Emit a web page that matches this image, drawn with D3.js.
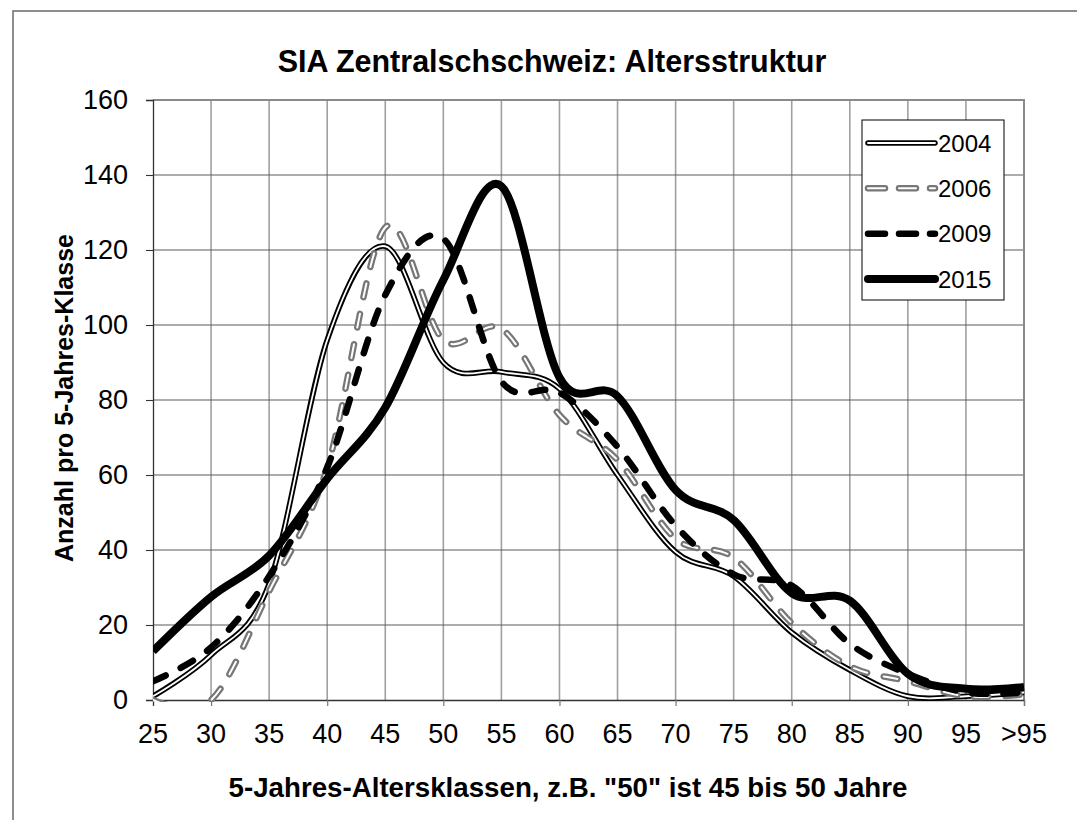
<!DOCTYPE html>
<html><head><meta charset="utf-8">
<script src="https://cdn.jsdelivr.net/npm/d3@7"></script>
<style>
body{margin:0;background:#fff}
svg{display:block}
text{font-family:"Liberation Sans",Arial,Helvetica,sans-serif;fill:#000}
</style>
</head><body>
<svg id="chart" width="1077" height="820"></svg>
<script>
// ---------- data ----------
const categories = ["25","30","35","40","45","50","55","60","65","70","75","80","85","90","95",">95"];
const yTickValues = [0,20,40,60,80,100,120,140,160];
const seriesNames = ["2004","2006","2009","2015"];
const values2004 = [1, 12, 31, 96, 121, 90, 87.5, 83, 60, 39.5, 33, 18, 8, 1, 1, 2];
const values2006 = [0, 0, 29, 62, 126, 96, 99, 76, 64, 43, 38, 20.5, 9, 5, 1, 1.5];
const values2009 = [5, 14, 33, 62, 108, 123, 85, 82, 67.5, 46.5, 33.5, 30.5, 15, 7, 2, 2];
const values2015 = [13, 27.5, 38.5, 59, 78, 112, 137, 86, 81, 56, 48, 28.5, 26.5, 7, 3, 3.5];
const titleText = "SIA Zentralschschweiz: Altersstruktur";
const xTitleText = '5-Jahres-Altersklassen, z.B. "50" ist 45 bis 50 Jahre';
const yTitleText = "Anzahl pro 5-Jahres-Klasse";

// ---------- layout ----------
const W = 1077, H = 820;
const plot = {left:153, right:1024, top:100, bottom:700};
const svg = d3.select("#chart");

const x = d3.scalePoint().domain(categories).range([plot.left, plot.right]);
const y = d3.scaleLinear().domain([0,160]).range([plot.bottom, plot.top]);

// outer chart frame (cropped at right/bottom)
svg.append("path").attr("d", `M13,${H}V11H${W}`).attr("fill","none")
   .attr("stroke","#6a6a6a").attr("stroke-width",1.5);

// vertical gridlines
svg.append("g").selectAll("line").data(categories.slice(1,-1)).join("line")
  .attr("x1", d=>x(d)).attr("x2", d=>x(d))
  .attr("y1", plot.top).attr("y2", plot.bottom)
  .attr("stroke","#a0a0a0").attr("stroke-width",1.6);
// horizontal gridlines
svg.append("g").selectAll("line").data(yTickValues.slice(1)).join("line")
  .attr("x1", plot.left).attr("x2", plot.right)
  .attr("y1", d=>y(d)).attr("y2", d=>y(d))
  .attr("stroke","#5a5a5a").attr("stroke-width",1.1);
// plot border right/top
svg.append("path").attr("d", `M${plot.left},${plot.top}H${plot.right}V${plot.bottom}`)
  .attr("fill","none").attr("stroke","#8a8a8a").attr("stroke-width",2);

// y axis
const yAxis = svg.append("g").attr("transform",`translate(${plot.left},0)`)
  .call(d3.axisLeft(y).tickValues(yTickValues).tickSize(7).tickPadding(18));
yAxis.select(".domain").attr("stroke","#333").attr("stroke-width",1.3);
yAxis.selectAll(".tick line").attr("stroke","#333").attr("stroke-width",1.1);
yAxis.selectAll(".tick text").attr("font-size",27).attr("font-family",null).attr("fill","#000");

// x axis: line, ticks at every other category, labels at all
const xAxis = svg.append("g").attr("transform",`translate(0,${plot.bottom})`)
  .call(d3.axisBottom(x).tickValues(categories.filter((d,i)=>i%2===1)).tickSize(6).tickFormat(""));
xAxis.select(".domain").attr("stroke","#333").attr("stroke-width",1.3);
xAxis.selectAll(".tick line").attr("stroke","#777").attr("stroke-width",1.2);
svg.append("g").selectAll("text").data(categories).join("text")
  .attr("x", d=>x(d)).attr("y", plot.bottom + 43)
  .attr("text-anchor","middle").attr("font-size",27).text(d=>d);

// ---------- series ----------
const seriesValues = [values2004, values2006, values2009, values2015];
const styles = {
  "2004": [{stroke:"#000", width:5.5}, {stroke:"#fff", width:1.8}],
  "2006": [{stroke:"#777777", width:6.5, dash:"14,17", cap:"round"}, {stroke:"#fff", width:2, dash:"14,17", cap:"round"}],
  "2009": [{stroke:"#000", width:6.5, dash:"14,17", cap:"round"}],
  "2015": [{stroke:"#000", width:8}]
};
const legendStyles = {
  "2004": styles["2004"],
  "2006": [{stroke:"#777777", width:6.5, dash:"17,14", cap:"round"}, {stroke:"#fff", width:2, dash:"17,14", cap:"round"}],
  "2009": [{stroke:"#000", width:6.5, dash:"17,14", cap:"round"}],
  "2015": styles["2015"]
};

svg.append("defs").append("clipPath").attr("id","clip")
  .append("rect").attr("x",plot.left).attr("y",plot.top-10)
  .attr("width",plot.right-plot.left+6).attr("height",plot.bottom-plot.top+12);

const line = d3.line()
  .x((d,i)=>x(categories[i]))
  .y(d=>y(d))
  .curve(d3.curveCardinal.tension(0));

const gSeries = svg.append("g").attr("clip-path","url(#clip)");
seriesNames.forEach((name, si)=>{
  styles[name].forEach(st=>{
    gSeries.append("path").datum(seriesValues[si]).attr("d", line)
      .attr("fill","none").attr("stroke",st.stroke).attr("stroke-width",st.width)
      .attr("stroke-dasharray", st.dash || null)
      .attr("stroke-linecap", st.cap || "butt").attr("stroke-linejoin","round");
  });
});

// ---------- legend ----------
const lg = svg.append("g");
lg.append("rect").attr("x",862).attr("y",120).attr("width",142).attr("height",180)
  .attr("fill","#fff").attr("stroke","#000").attr("stroke-width",1);
const legendY = d3.scalePoint().domain(seriesNames).range([143,279]);
seriesNames.forEach(name=>{
  const ly = legendY(name);
  legendStyles[name].forEach(st=>{
    lg.append("line").attr("x1",868).attr("x2",935).attr("y1",ly).attr("y2",ly)
      .attr("stroke",st.stroke).attr("stroke-width",st.width)
      .attr("stroke-dasharray", st.dash || null)
      .attr("stroke-linecap", st.cap || "round");
  });
  lg.append("text").attr("x",938).attr("y",ly+8.6).attr("font-size",24).text(name);
});

// ---------- titles ----------
svg.append("text").attr("x",552).attr("y",72).attr("text-anchor","middle")
  .attr("font-size",30.5).attr("font-weight","bold").text(titleText);
svg.append("text").attr("x",568).attr("y",797).attr("text-anchor","middle")
  .attr("font-size",27.7).attr("font-weight","bold").text(xTitleText);
svg.append("text").attr("transform","translate(73,398) rotate(-90)").attr("text-anchor","middle")
  .attr("font-size",25).attr("font-weight","bold").text(yTitleText);
</script>
</body></html>
